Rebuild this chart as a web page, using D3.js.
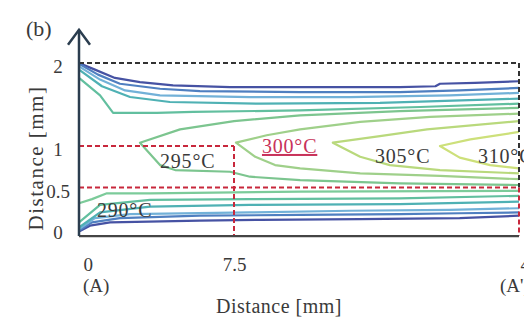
<!DOCTYPE html>
<html>
<head>
<meta charset="utf-8">
<script src="https://cdn.jsdelivr.net/npm/d3@7"></script>
<style>
  body { margin: 0; background: #fff; }
  svg text { font-family: "Liberation Serif", "Times New Roman", serif; fill: #3a3a3a; }
</style>
</head>
<body>
<div id="chart"></div>
<script>
// axis ticks
const xTicks = [0, 7.5, 45];
const xTickText = ['0', '7.5', '45'];
const xEndText = ['(A)', '', "(A')"];
const yTicks = [0, 0.5, 1, 2];
const yTickText = ['0', '0.5', '1', '2'];

// isotherms, [distance mm, depth mm]
const upper1 = [[0, 2.0], [0.77, 1.92], [1.74, 1.82], [2.95, 1.77], [4.55, 1.73], [7.31, 1.71], [29.3, 1.71], [34.0, 1.72], [34.6, 1.75], [39.2, 1.76], [45, 1.78]];
const upper2 = [[0, 1.99], [0.92, 1.86], [1.98, 1.75], [3.92, 1.69], [5.85, 1.66], [16.2, 1.65], [29.3, 1.65], [37.2, 1.67], [45, 1.70]];
const upper3 = [[0, 1.96], [1.02, 1.80], [2.23, 1.67], [3.92, 1.61], [9.6, 1.59], [22.8, 1.59], [35.9, 1.61], [45, 1.64]];
const upper4 = [[0, 1.92], [1.11, 1.72], [2.47, 1.59], [4.40, 1.53], [10.9, 1.51], [26.7, 1.52], [45, 1.57]];
const upper5 = [[0, 1.82], [1.02, 1.61], [1.65, 1.40], [3.77, 1.40], [5.52, 1.41], [16.2, 1.43], [32.0, 1.47], [45, 1.51]];

const lower1 = [[0, -0.03], [0.53, 0.04], [1.5, 0.08], [5.85, 0.10], [10.9, 0.11], [24.1, 0.12], [37.2, 0.13], [45, 0.16]];
const lower2 = [[0, -0.02], [0.63, 0.08], [1.98, 0.13], [5.85, 0.16], [16.2, 0.17], [29.3, 0.18], [37.2, 0.19], [45, 0.20]];
const lower3 = [[0, 0], [0.77, 0.13], [2.47, 0.18], [9.6, 0.20], [22.8, 0.22], [35.9, 0.23], [45, 0.25]];
const lower4 = [[0, 0.02], [1.02, 0.20], [3.44, 0.27], [9.6, 0.29], [29.3, 0.30], [45, 0.33]];
const lower5 = [[0, 0.08], [1.02, 0.29], [3.44, 0.35], [9.6, 0.36], [29.3, 0.37], [45, 0.40]];
const lower6 = [[0, 0.31], [0.63, 0.36], [1.35, 0.43], [3.44, 0.43], [16.2, 0.45], [45, 0.46]];

const iso295 = [[45, 1.46], [29.3, 1.42], [16.2, 1.37], [7.5, 1.30], [4.89, 1.20], [2.95, 1.04], [3.92, 0.77], [4.65, 0.71], [7.31, 0.69], [9.6, 0.63], [16.2, 0.59], [29.3, 0.55], [45, 0.53]];
const iso300 = [[45, 1.39], [33.3, 1.35], [24.1, 1.29], [16.2, 1.20], [11.8, 1.13], [7.76, 1.04], [10.3, 0.87], [12.9, 0.77], [16.2, 0.73], [24.1, 0.67], [34.6, 0.64], [45, 0.60]];
const iso305 = [[45, 1.30], [32.9, 1.20], [26.7, 1.12], [20.5, 1.04], [24.1, 0.87], [28.0, 0.77], [34.6, 0.71], [45, 0.67]];
const iso310 = [[45, 1.17], [38.6, 1.08], [34.6, 1.00], [37.2, 0.86], [41.2, 0.77], [45, 0.73]];

// temperature labels
const tempText = ['290°C', '295°C', '300°C', '305°C', '310°C'];
const tempAt = [[0.87, 0.145], [3.92, 0.735], [11.18, 0.916], [26.05, 0.795], [39.6, 0.795]];

const contours = [
  { pts: upper1, color: '#4652a3' },
  { pts: upper2, color: '#4f7fc0' },
  { pts: upper3, color: '#72b1d8' },
  { pts: upper4, color: '#4fb1b4' },
  { pts: upper5, color: '#62bf9f' },
  { pts: lower1, color: '#4652a3' },
  { pts: lower2, color: '#4f7fc0' },
  { pts: lower3, color: '#72b1d8' },
  { pts: lower4, color: '#4fb1b4' },
  { pts: lower5, color: '#62bf9f' },
  { pts: lower6, color: '#7ccb9a' },
  { pts: iso295, color: '#7cc58f' },
  { pts: iso300, color: '#9fd08a' },
  { pts: iso305, color: '#b9d97c' },
  { pts: iso310, color: '#cde07a' }
];

const width = 524;
const height = 320;

const x = d3.scaleLinear().domain([0, 7.5, 45]).range([79, 234, 519]);
const y = d3.scaleLinear().domain([0, 2]).range([229, 63]);
const yBase = -0.085;
const yTop = 2.4;

const svg = d3.select('#chart').append('svg')
  .attr('width', width)
  .attr('height', height);

const line = d3.line()
  .x(d => x(d[0]))
  .y(d => y(d[1]));

// contour lines
svg.append('g').selectAll('path')
  .data(contours)
  .enter().append('path')
  .attr('d', d => line(d.pts))
  .attr('fill', 'none')
  .attr('stroke', d => d.color)
  .attr('stroke-width', 2.2)
  .attr('stroke-linejoin', 'round');

// dashed frames
const blackDash = [[[0, 2], [45, 2]], [[45, 2], [45, 0.5]]];
const redDash = [[[0, 1], [7.5, 1]], [[7.5, 1], [7.5, yBase]], [[0, 0.5], [45, 0.5]], [[45, 0.5], [45, yBase]]];

svg.append('g').selectAll('path')
  .data(blackDash)
  .enter().append('path')
  .attr('d', d => line(d))
  .attr('stroke', '#333')
  .attr('stroke-width', 2)
  .attr('stroke-dasharray', '5,3');

svg.append('g').selectAll('path')
  .data(redDash)
  .enter().append('path')
  .attr('d', d => line(d))
  .attr('stroke', '#c8283c')
  .attr('stroke-width', 2)
  .attr('stroke-dasharray', '5,3');

// axes lines
svg.append('line')
  .attr('x1', x(0)).attr('x2', x(45))
  .attr('y1', y(yBase)).attr('y2', y(yBase))
  .attr('stroke', '#444').attr('stroke-width', 2.2);

svg.append('line')
  .attr('x1', x(0)).attr('x2', x(0))
  .attr('y1', y(yBase)).attr('y2', y(yTop))
  .attr('stroke', '#2b3d4f').attr('stroke-width', 2.5);

svg.append('path')
  .attr('d', 'M' + (x(0) - 11) + ',' + (y(yTop) + 15) + 'L' + x(0) + ',' + y(yTop) + 'L' + (x(0) + 11) + ',' + (y(yTop) + 15))
  .attr('fill', 'none')
  .attr('stroke', '#2b3d4f')
  .attr('stroke-width', 2.5);

// y tick labels
const yAxis = svg.append('g')
  .attr('transform', 'translate(' + x(0) + ',0)')
  .call(d3.axisLeft(y).tickValues(yTicks).tickSize(0).tickFormat((d, i) => yTickText[i]));
yAxis.select('.domain').remove();
yAxis.selectAll('text')
  .attr('x', -21)
  .attr('dy', '0.5em')
  .attr('text-anchor', 'middle')
  .style('font-size', '19px')
  .style('font-family', '"Liberation Serif", serif')
  .attr('fill', '#3a3a3a');

// x tick labels
const xAxis = svg.append('g')
  .attr('transform', 'translate(0,' + y(yBase) + ')')
  .call(d3.axisBottom(x).tickValues(xTicks).tickSize(0).tickFormat((d, i) => xTickText[i]));
xAxis.select('.domain').remove();
xAxis.selectAll('text')
  .attr('y', 35)
  .attr('dy', 0)
  .attr('x', (d, i) => i === 0 ? 4 : (i === 2 ? 1 : 0))
  .attr('text-anchor', (d, i) => i === 1 ? 'middle' : 'start')
  .style('font-size', '19px')
  .style('font-family', '"Liberation Serif", serif')
  .attr('fill', '#3a3a3a');

svg.append('g').selectAll('text')
  .data(xTicks)
  .enter().append('text')
  .attr('x', (d, i) => x(d) + (i === 0 ? 4 : -19))
  .attr('y', y(yBase) + 56)
  .style('font-size', '19px')
  .text((d, i) => xEndText[i]);

// titles
svg.append('text')
  .attr('x', 279)
  .attr('y', 313)
  .attr('text-anchor', 'middle')
  .style('font-size', '20px')
  .style('letter-spacing', '0.5px')
  .text('Distance [mm]');

svg.append('text')
  .attr('transform', 'translate(43,158) rotate(-90)')
  .attr('text-anchor', 'middle')
  .style('font-size', '21px')
  .style('letter-spacing', '1.5px')
  .text('Distance [mm]');

svg.append('text')
  .attr('x', 26)
  .attr('y', 36)
  .style('font-size', '22px')
  .text('(b)');

// temperature labels
svg.append('g').selectAll('text')
  .data(tempText)
  .enter().append('text')
  .attr('x', (d, i) => x(tempAt[i][0]))
  .attr('y', (d, i) => y(tempAt[i][1]))
  .style('font-size', '20px')
  .style('letter-spacing', '0.8px')
  .style('fill', d => d === '300°C' ? '#c8325a' : '#3a3a3a')
  .style('text-decoration', d => d === '300°C' ? 'underline' : 'none')
  .text(d => d);
</script>
</body>
</html>
